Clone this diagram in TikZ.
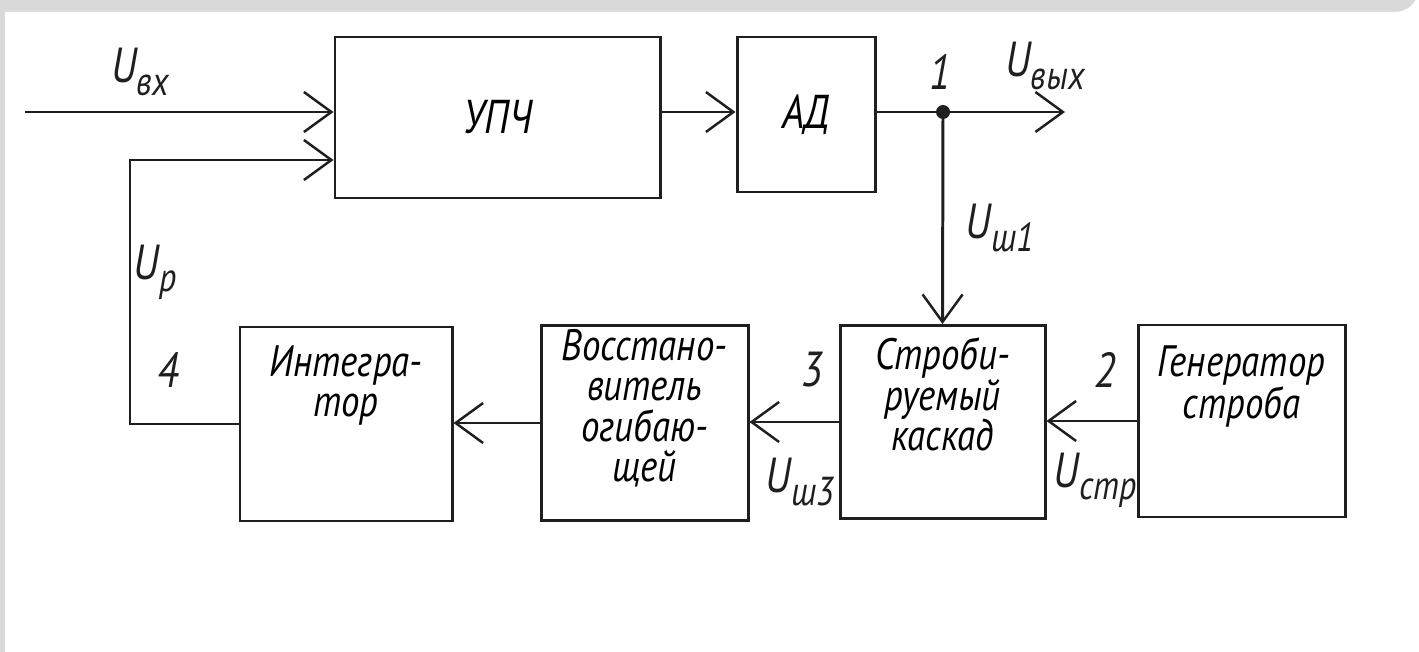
\documentclass[tikz,border=0pt]{standalone}
\usepackage{fontspec}
\setmainfont{PT Sans}[FakeStretch=0.84]
\usetikzlibrary{arrows.meta}
\newcommand{\Us}[2]{#1\raisebox{-0.5ex}{\fontsize{23}{23}\selectfont #2}}
\begin{document}
\begin{tikzpicture}[x=0.02cm,y=-0.02cm,
  ink/.style={draw=black!88, line width=1.7pt},
  blk/.style={ink, rectangle, inner sep=0pt, align=center,
     font=\fontsize{25}{23}\selectfont\itshape},
  arr/.style={ink, -{Straight Barb[length=0.55cm,width=0.8cm,line width=1.4pt]}},
  lbl/.style={inner sep=0pt, font=\fontsize{28}{28}\selectfont\itshape, text=black!88}]
\useasboundingbox (0,0) rectangle (1419,652);
\fill[black!15] (0,0) rectangle (1419,652);
\fill[white] (5,12) -- (1395,12) arc[start angle=90,end angle=0,radius=24] -- (1419,652) -- (5,652) -- cycle;

\node[blk, font=\fontsize{27}{27}\selectfont\itshape, minimum width=325*0.02cm, minimum height=161*0.02cm] (upch) at (497.5,117.5) {УПЧ};
\node[blk, font=\fontsize{27}{27}\selectfont\itshape, minimum width=138*0.02cm, minimum height=155*0.02cm] (ad) at (806,114.5) {АД};
\node[blk, minimum width=212*0.02cm, minimum height=194*0.02cm] (integ) at (346,424) {Интегра-\\тор\\[0.9cm]};
\node[blk, minimum width=207*0.02cm, minimum height=195*0.02cm] (vost) at (644.5,423) {Восстано-\\витель\\огибаю-\\щей\\[-0.1cm]};
\node[blk, minimum width=205*0.02cm, minimum height=193*0.02cm] (strob) at (942.5,422) {Строби-\\руемый\\каскад\\[0.3cm]};
\node[blk, minimum width=207*0.02cm, minimum height=192*0.02cm] (gen) at (1241.5,421) {Генератор\\строба\\[0.75cm]};

\coordinate (lvl) at (0,112);
\coordinate (in) at (25,112);
\coordinate (fbc) at (130,160);
\coordinate (out) at (1065,112);
\coordinate (j) at (943,112);

\draw[arr] (in) -- (upch.west |- in);
\draw[arr] (integ.west) -| (fbc) -- (upch.west |- fbc);
\draw[arr] (upch.east |- lvl) -- (ad.west |- lvl);
\draw[arr] (ad.east |- lvl) -- (out);
\fill[black!88] (j) circle[radius=0.14cm];
\draw[arr] (j) -- (strob.north);
\draw[arr] (gen.west) -- (strob.east |- gen.west);
\draw[arr] (strob.west) -- (vost.east |- strob.west);
\draw[arr] (vost.west) -- (integ.east |- vost.west);

\node[lbl] (lin) at (140,72) {\Us{U}{вх}};
\node[lbl] (lout) at (1045,66) {\Us{U}{вых}};
\node[lbl] (n1) at (940,72) {1};
\node[lbl] (lsh1) at (1000,228) {\Us{U}{ш1}};
\node[lbl] (lp) at (155,272) {\Us{U}{р}};
\node[lbl] (n4) at (168,370) {4};
\node[lbl] (n3) at (812,370) {3};
\node[lbl] (n2) at (1105,370) {2};
\node[lbl] (lsh3) at (800,482) {\Us{U}{ш3}};
\node[lbl] (lstr) at (1095,480) {\Us{U}{стр}};
\end{tikzpicture}
\end{document}
